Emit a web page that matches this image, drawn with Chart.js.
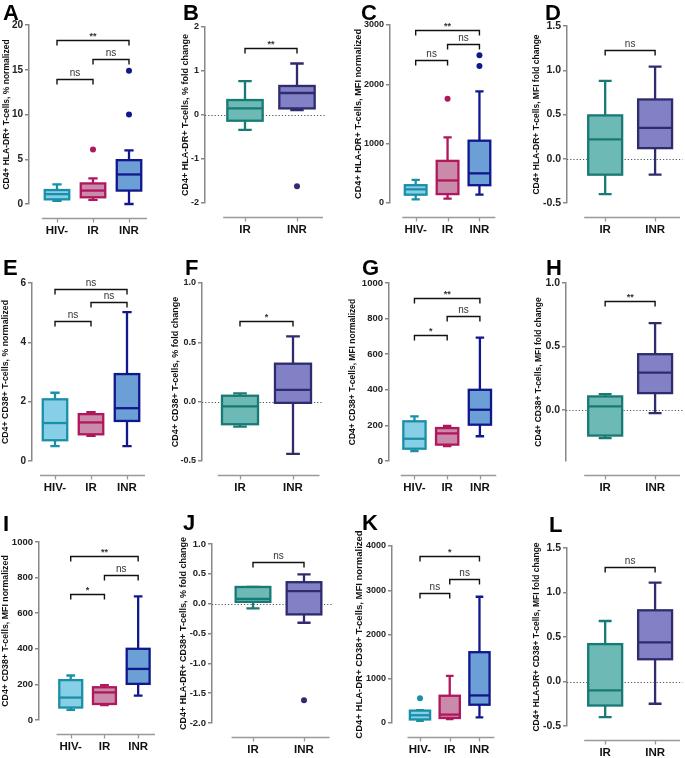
<!DOCTYPE html>
<html>
<head>
<meta charset="utf-8">
<script src="https://cdn.jsdelivr.net/npm/chart.js@4.4.0/dist/chart.umd.min.js"></script>
<style>
  body { margin: 0; background: #fff; width: 685px; height: 758px; position: relative; overflow: hidden; font-family: "Liberation Sans", Arial, sans-serif; }
  canvas { position: absolute; }
  .letter { position: absolute; font-weight: bold; font-size: 22px; line-height: 1; color: #000; }
</style>
</head>
<body>
<script>
// categories
const groups3 = ['HIV-', 'IR', 'INR'];
const groups2 = ['IR', 'INR'];

// box stats per group: [min, q1, median, q3, max]
const statsA = [[0.34, 0.52, 1.1, 1.56, 2.2], [0.45, 0.75, 1.5, 2.3, 2.87], [0, 1.5, 3.3, 4.9, 6.0]];
const statsB = [[-0.34, -0.13, 0.15, 0.34, 0.77], [0.11, 0.15, 0.5, 0.66, 1.17]];
const statsC = [[60, 140, 230, 300, 390], [75, 150, 380, 710, 1105], [140, 300, 500, 1050, 1880]];
const statsD = [[-0.40, -0.18, 0.22, 0.49, 0.88], [-0.18, 0.12, 0.35, 0.67, 1.04]];
const statsE = [[0.5, 0.7, 1.28, 2.08, 2.3], [0.85, 0.9, 1.3, 1.58, 1.65], [0.5, 1.35, 1.78, 2.93, 5.02]];
const statsF = [[-0.21, -0.19, -0.04, 0.05, 0.07], [-0.44, -0.01, 0.10, 0.32, 0.55]];
const statsG = [[56, 69, 125, 223, 251], [84, 92, 155, 185, 197], [139, 204, 288, 400, 693]];
const statsH = [[-0.22, -0.2, 0.03, 0.108, 0.126], [-0.024, 0.134, 0.295, 0.44, 0.684]];
const statsI = [[57, 70, 126, 224, 250], [84, 90, 155, 184, 196], [137, 203, 287, 400, 694]];
const statsJ = [[-0.08, 0.03, 0.08, 0.28, 0.28], [-0.32, -0.18, 0.21, 0.36, 0.49]];
const statsK = [[50, 80, 175, 280, 290], [90, 113, 190, 616, 1066], [128, 413, 623, 1600, 2853]];
const statsL = [[-0.40, -0.27, -0.10, 0.42, 0.68], [-0.25, 0.25, 0.44, 0.80, 1.11]];

// outliers per group
const outA = [[], [6.1], [10.0, 14.9]];
const outB = [[], [-1.62]];
const outC = [[], [1755], [2310, 2490]];
const outJ = [[], [-1.62]];
const outK = [[560], [], []];
const none2 = [[], []];
const none3 = [[], [], []];

// significance brackets: [from group, to group, height, label]
const brA = [[1, 2, 14.0, 'ns'], [2, 3, 16.2, 'ns'], [1, 3, 18.3, '**']];
const brB = [[1, 2, 1.53, '**']];
const brC = [[1, 2, 2410, 'ns'], [2, 3, 2680, 'ns'], [1, 3, 2910, '**']];
const brD = [[1, 2, 1.23, 'ns']];
const brE = [[1, 2, 4.72, 'ns'], [2, 3, 5.36, 'ns'], [1, 3, 5.81, 'ns']];
const brF = [[1, 2, 0.68, '*']];
const brG = [[1, 2, 706, '*'], [2, 3, 815, 'ns'], [1, 3, 918, '**']];
const brH = [[1, 2, 0.86, '**']];
const brI = [[1, 2, 710, '*'], [2, 3, 813, 'ns'], [1, 3, 920, '**']];
const brJ = [[1, 2, 0.69, 'ns']];
const brK = [[1, 2, 2928, 'ns'], [2, 3, 3265, 'ns'], [1, 3, 3776, '*']];
const brL = [[1, 2, 1.29, 'ns']];

// y tick labels
const ticksA = [0, 5, 10, 15, 20];
const ticksB = [-2, -1, 0, 1, 2];
const ticksC = [0, 1000, 2000, 3000];
const ticksD = [-0.5, 0, 0.5, 1.0, 1.5];
const ticksE = [0, 2, 4, 6];
const ticksF = [-0.5, 0, 0.5, 1.0];
const ticksG = [0, 200, 400, 600, 800, 1000];
const ticksH = [0, 0.5, 1.0];
const ticksJ = [-2, -1.5, -1, -0.5, 0, 0.5, 1.0];
const ticksK = [0, 1000, 2000, 3000, 4000];

// colours
const col3 = [
  { stroke: '#1a8fa8', fill: '#86cfe6' },
  { stroke: '#b0175c', fill: '#c98ba9' },
  { stroke: '#10188c', fill: '#6b9fd6' }
];
const col2 = [
  { stroke: '#187a74', fill: '#6cb9b5' },
  { stroke: '#2e2c6e', fill: '#8381c6' }
];

const panels = [
  { id: 'A', left: 0, top: 0, w: 170, h: 250, axisX: 29, yTop: 25, yBot: 204, cat1: 57, step: 36, titleX: 7, tfs: 8.5, kfs: 10, lx: 3, ly: 2,
    groups: groups3, stats: statsA, out: outA, br: brA, ticks: ticksA, min: 0, max: 20, dec: 0, zero: false,
    title: 'CD4+ HLA-DR+ T-cells, % normalized' },
  { id: 'B', left: 170, top: 0, w: 170, h: 250, axisX: 205, yTop: 27, yBot: 203, cat1: 245, step: 52, titleX: 186, tfs: 9, kfs: 9, lx: 183, ly: 2,
    groups: groups2, stats: statsB, out: outB, br: brB, ticks: ticksB, min: -2, max: 2, dec: 0, zero: true,
    title: 'CD4+ HLA-DR+ T-cells, % fold change' },
  { id: 'C', left: 340, top: 0, w: 170, h: 250, axisX: 390, yTop: 25, yBot: 203, cat1: 419, step: 36, titleX: 358, tfs: 9.2, kfs: 9, lx: 361, ly: 2,
    groups: groups3, stats: statsC, out: outC, br: brC, ticks: ticksC, min: 0, max: 3000, dec: 0, zero: false,
    title: 'CD4+ HLA-DR+ T-cells, MFI normalized' },
  { id: 'D', left: 510, top: 0, w: 175, h: 250, axisX: 567, yTop: 26, yBot: 203, cat1: 606, step: 51, titleX: 537, tfs: 8.5, kfs: 10.5, lx: 545, ly: 2,
    groups: groups2, stats: statsD, out: none2, br: brD, ticks: ticksD, min: -0.5, max: 1.5, dec: 1, zero: true,
    title: 'CD4+ HLA-DR+ T-cells, MFI fold change' },
  { id: 'E', left: 0, top: 250, w: 170, h: 255, axisX: 32, yTop: 283, yBot: 461, cat1: 55, step: 36, titleX: 5, tfs: 8.8, kfs: 10, lx: 3, ly: 257,
    groups: groups3, stats: statsE, out: none3, br: brE, ticks: ticksE, min: 0, max: 6, dec: 0, zero: false,
    title: 'CD4+ CD38+ T-cells, % normalized' },
  { id: 'F', left: 170, top: 250, w: 170, h: 255, axisX: 202, yTop: 283, yBot: 461, cat1: 240, step: 53, titleX: 175, tfs: 9, kfs: 9, lx: 185, ly: 257,
    groups: groups2, stats: statsF, out: none2, br: brF, ticks: ticksF, min: -0.5, max: 1.0, dec: 1, zero: true,
    title: 'CD4+ CD38+ T-cells, % fold change' },
  { id: 'G', left: 340, top: 250, w: 170, h: 255, axisX: 389, yTop: 283, yBot: 461, cat1: 417, step: 36, titleX: 353, tfs: 8.5, kfs: 9.5, lx: 362, ly: 257,
    groups: groups3, stats: statsG, out: none3, br: brG, ticks: ticksG, min: 0, max: 1000, dec: 0, zero: false,
    title: 'CD4+ CD38+ T-cells, MFI normalized' },
  { id: 'H', left: 510, top: 250, w: 175, h: 255, axisX: 566, yTop: 283, yBot: 461, cat1: 606, step: 51, titleX: 539, tfs: 8.5, kfs: 10.5, lx: 546, ly: 257,
    groups: groups2, stats: statsH, out: none2, br: brH, ticks: ticksH, min: -0.4, max: 1.0, dec: 1, zero: true,
    title: 'CD4+ CD38+ T-cells, MFI fold change' },
  { id: 'I', left: 0, top: 505, w: 170, h: 253, axisX: 39, yTop: 542, yBot: 720, cat1: 71, step: 34, titleX: 5, tfs: 8.8, kfs: 9.5, lx: 3, ly: 513,
    groups: groups3, stats: statsI, out: none3, br: brI, ticks: ticksG, min: 0, max: 1000, dec: 0, zero: false,
    title: 'CD4+ CD38+ T-cells, MFI normalized' },
  { id: 'J', left: 170, top: 505, w: 170, h: 253, axisX: 212, yTop: 544, yBot: 723, cat1: 253, step: 51, titleX: 184, tfs: 9, kfs: 9.5, lx: 183, ly: 512,
    groups: groups2, stats: statsJ, out: outJ, br: brJ, ticks: ticksJ, min: -2, max: 1.0, dec: 1, zero: true,
    title: 'CD4+ HLA-DR+ CD38+ T-cells, % fold change' },
  { id: 'K', left: 340, top: 505, w: 170, h: 253, axisX: 392, yTop: 546, yBot: 723, cat1: 424, step: 34, titleX: 359, tfs: 9.5, kfs: 9, lx: 362, ly: 512,
    groups: groups3, stats: statsK, out: outK, br: brK, ticks: ticksK, min: 0, max: 4000, dec: 0, zero: false,
    title: 'CD4+ HLA-DR+ CD38+ T-cells, MFI normalized' },
  { id: 'L', left: 510, top: 505, w: 175, h: 253, axisX: 567, yTop: 548, yBot: 726, cat1: 606, step: 51, titleX: 537, tfs: 8.5, kfs: 10.5, lx: 549, ly: 514,
    groups: groups2, stats: statsL, out: none2, br: brL, ticks: ticksD, min: -0.5, max: 1.5, dec: 1, zero: true,
    title: 'CD4+ HLA-DR+ CD38+ T-cells, MFI fold change' }
];

// boxes, whiskers, brackets and the detached x axis, all placed through the chart scales
const boxPlugin = {
  id: 'boxplot',
  beforeDatasetsDraw(chart, args, o) {
    const { ctx, chartArea: a, scales: { x, y } } = chart;
    const step = x.getPixelForValue(2) - x.getPixelForValue(1);
    const bw = step * 0.68, cw = bw * 0.38;
    ctx.save();
    if (o.zero) {
      const y0 = Math.round(y.getPixelForValue(0)) + 0.5;
      ctx.strokeStyle = '#555';
      ctx.lineWidth = 1;
      ctx.setLineDash([1.2, 2]);
      ctx.beginPath();
      ctx.moveTo(a.left, y0);
      ctx.lineTo(a.right, y0);
      ctx.stroke();
      ctx.setLineDash([]);
    }
    o.stats.forEach((s, i) => {
      const cx = x.getPixelForValue(i + 1), c = o.colors[i];
      const [mn, q1, md, q3, mx] = s.map(v => y.getPixelForValue(v));
      ctx.strokeStyle = c.stroke;
      ctx.lineWidth = 2.3;
      ctx.beginPath();
      ctx.moveTo(cx, q3); ctx.lineTo(cx, mx);
      ctx.moveTo(cx - cw / 2, mx); ctx.lineTo(cx + cw / 2, mx);
      ctx.moveTo(cx, q1); ctx.lineTo(cx, mn);
      ctx.moveTo(cx - cw / 2, mn); ctx.lineTo(cx + cw / 2, mn);
      ctx.stroke();
      ctx.fillStyle = c.fill;
      ctx.fillRect(cx - bw / 2, q3, bw, q1 - q3);
      ctx.strokeRect(cx - bw / 2, q3, bw, q1 - q3);
      ctx.beginPath();
      ctx.moveTo(cx - bw / 2, md); ctx.lineTo(cx + bw / 2, md);
      ctx.stroke();
    });
    ctx.strokeStyle = '#111';
    ctx.lineWidth = 1.4;
    ctx.fillStyle = '#333';
    ctx.textAlign = 'center';
    ctx.textBaseline = 'bottom';
    o.br.forEach(([g1, g2, v, t]) => {
      const x1 = x.getPixelForValue(g1), x2 = x.getPixelForValue(g2), yy = Math.round(y.getPixelForValue(v)) + 0.5;
      ctx.beginPath();
      ctx.moveTo(x1, yy + 5); ctx.lineTo(x1, yy); ctx.lineTo(x2, yy); ctx.lineTo(x2, yy + 5);
      ctx.stroke();
      ctx.font = t === 'ns' ? '10px "Liberation Sans"' : 'bold 9px "Liberation Sans"';
      ctx.fillText(t, (x1 + x2) / 2, t === 'ns' ? yy - 1 : yy + 1);
    });
    const xl = Math.round(a.bottom + 14) + 0.5;
    ctx.strokeStyle = '#999';
    ctx.lineWidth = 1.3;
    ctx.beginPath();
    ctx.moveTo(x.getPixelForValue(0.58), xl);
    ctx.lineTo(x.getPixelForValue(o.stats.length + 0.5), xl);
    o.stats.forEach((s, i) => {
      const px = Math.round(x.getPixelForValue(i + 1)) + 0.5;
      ctx.moveTo(px, xl); ctx.lineTo(px, xl + 4);
    });
    ctx.stroke();
    ctx.restore();
  }
};

const FONT = '"Liberation Sans", Arial, sans-serif';

panels.forEach(p => {
  const cv = document.createElement('canvas');
  cv.width = p.w; cv.height = p.h;
  cv.style.left = p.left + 'px'; cv.style.top = p.top + 'px';
  document.body.appendChild(cv);

  const lab = document.createElement('div');
  lab.className = 'letter';
  lab.textContent = p.id;
  lab.style.left = p.lx + 'px'; lab.style.top = p.ly + 'px';
  document.body.appendChild(lab);

  const n = p.groups.length;
  const yW = p.axisX - p.left;
  const padTop = p.yTop - p.top;
  const xH = p.h - (p.yBot - p.top);
  const xMin = 1 - (p.cat1 - p.axisX) / p.step;
  const xMax = n + 0.55;
  const rightPx = p.cat1 + (xMax - 1) * p.step;
  const padRight = Math.max(0, p.left + p.w - rightPx);
  const colors = n === 3 ? col3 : col2;
  const half = p.tfs * 1.2 / 2;

  const pts = [], ptCol = [];
  p.out.forEach((vals, i) => vals.forEach(v => { pts.push({ x: i + 1, y: v }); ptCol.push(colors[i].stroke); }));

  new Chart(cv, {
    type: 'scatter',
    data: {
      datasets: [{
        data: pts,
        pointRadius: 3,
        pointBackgroundColor: ptCol,
        pointBorderColor: ptCol,
        pointBorderWidth: 0
      }]
    },
    options: {
      responsive: false,
      animation: false,
      events: [],
      devicePixelRatio: 1,
      layout: { padding: { left: 0, top: padTop, right: padRight, bottom: 0 } },
      plugins: {
        legend: { display: false },
        tooltip: { enabled: false },
        boxplot: { stats: p.stats, colors: colors, br: p.br, zero: p.zero }
      },
      scales: {
        x: {
          type: 'linear',
          min: xMin,
          max: xMax,
          afterBuildTicks: s => { s.ticks = p.groups.map((g, i) => ({ value: i + 1 })); },
          afterFit: s => { s.height = xH; },
          grid: { display: false, drawTicks: false },
          border: { display: false },
          ticks: {
            padding: 20,
            color: '#111',
            font: { family: FONT, size: 11.5, weight: 'bold' },
            callback: v => p.groups[Math.round(v) - 1] || ''
          }
        },
        y: {
          min: p.min,
          max: p.max,
          afterBuildTicks: s => { s.ticks = p.ticks.map(v => ({ value: v })); },
          afterFit: s => { s.width = yW; },
          grid: { drawOnChartArea: false, drawTicks: true, tickLength: 4, color: '#888', lineWidth: 1.5 },
          border: { display: true, color: '#888', width: 1.5 },
          ticks: {
            padding: 2,
            color: '#222',
            font: { family: FONT, size: p.kfs, weight: 'bold' },
            callback: v => Number(v).toFixed(p.dec)
          },
          title: {
            display: true,
            text: p.title,
            color: '#111',
            font: { family: FONT, size: p.tfs, weight: 'bold' },
            padding: { top: Math.max(0, p.titleX - p.left - half), bottom: 0 }
          }
        }
      }
    },
    plugins: [boxPlugin]
  });
});
</script>
</body>
</html>
